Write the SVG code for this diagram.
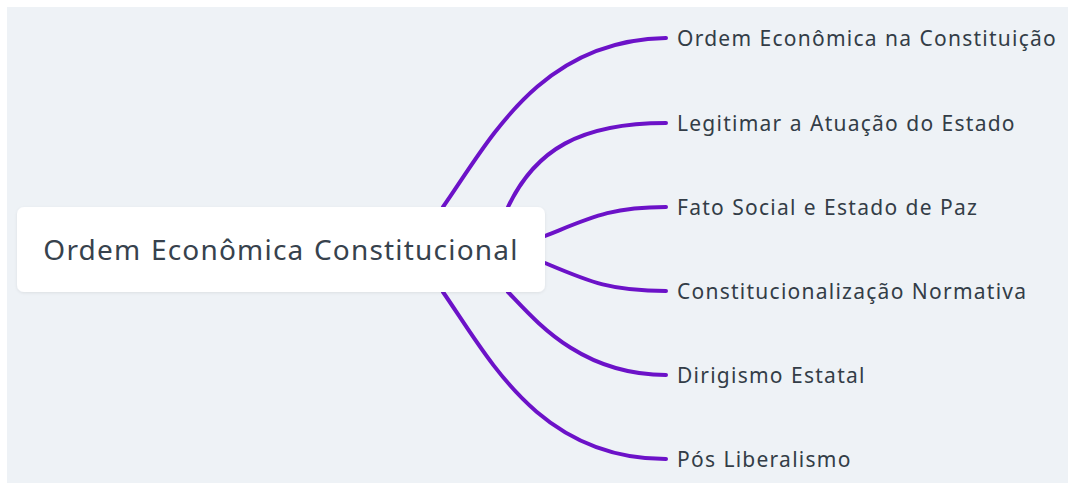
<svg xmlns="http://www.w3.org/2000/svg" width="1075" height="486" viewBox="0 0 1075 486">
<style>
.bg{fill:#eef2f6}
.root rect{fill:#ffffff}
.root text{font-family:"Noto Sans",sans-serif;font-size:28px;letter-spacing:1.2px;word-spacing:1px;fill:#37424d}
.lbl{font-family:"Noto Sans",sans-serif;font-size:21px;letter-spacing:1.25px;word-spacing:0.5px;fill:#333d47}
.conn path{fill:none;stroke:#6c12c8;stroke-width:4;stroke-linecap:round}
</style>
<defs>
<filter id="sh" x="-5%" y="-20%" width="110%" height="140%">
<feDropShadow dx="0" dy="1" stdDeviation="1.5" flood-color="#000" flood-opacity="0.08"/>
</filter>
</defs>
<rect class="bg" x="7" y="7" width="1061" height="476"/>
<g class="conn" id="connectors">
<path d="M443 207 C490 140 540 40 666 38"/>
<path d="M508 207 C535 150 580 123 666 123"/>
<path d="M545 236 C590 218 610 207 666 207"/>
<path d="M545 263 C590 282 610 291 666 291"/>
<path d="M508 292 C535 320 580 375 666 375"/>
<path d="M443 292 C490 360 540 459 666 459"/>
</g>
<g class="root" id="root">
<rect x="17" y="207" width="528" height="85" rx="7" filter="url(#sh)"/>
<text x="281" y="260" text-anchor="middle">Ordem Econômica Constitucional</text>
</g>
<g id="n1"><text class="lbl" x="677" y="46">Ordem Econômica na Constituição</text></g>
<g id="n2"><text class="lbl" x="677" y="131">Legitimar a Atuação do Estado</text></g>
<g id="n3"><text class="lbl" x="677" y="215">Fato Social e Estado de Paz</text></g>
<g id="n4"><text class="lbl" x="677" y="299">Constitucionalização Normativa</text></g>
<g id="n5"><text class="lbl" x="677" y="383">Dirigismo Estatal</text></g>
<g id="n6"><text class="lbl" x="677" y="467">Pós Liberalismo</text></g>
</svg>
